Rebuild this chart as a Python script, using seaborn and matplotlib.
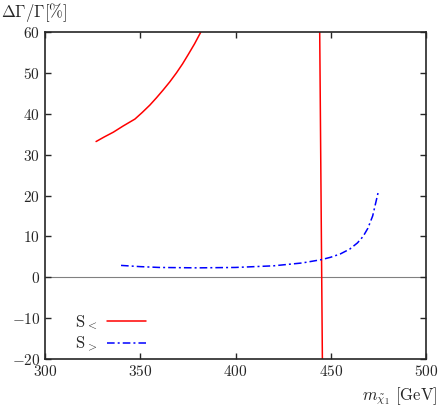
import numpy as np
import pandas as pd
import seaborn as sns
import matplotlib
matplotlib.use("Agg")
import matplotlib.pyplot as plt
from matplotlib.ticker import FuncFormatter

## Data
# S_< : lower branch of the curve
s_lt_x = [326.8, 331.0, 335.9, 341.0, 347.2, 351.0, 355.0, 358.5, 362.0, 365.5, 369.0, 372.2, 375.2, 378.5, 381.7]
s_lt_y = [33.2, 34.3, 35.5, 37.0, 38.7, 40.3, 42.1, 43.9, 45.8, 47.8, 50.0, 52.2, 54.5, 57.1, 59.9]
# S_< : near-vertical pole branch
s_lt_pole_x = [444.2, 444.9, 445.6]
s_lt_pole_y = [60.0, 20.0, -20.0]
# S_>
s_gt_x = [339.9, 350.0, 360.0, 380.0, 400.0, 420.0, 435.0, 445.0, 450.0, 455.0, 460.0, 464.0, 467.0, 469.5, 472.0, 474.8]
s_gt_y = [2.9, 2.6, 2.4, 2.3, 2.4, 2.8, 3.5, 4.3, 4.9, 5.7, 6.9, 8.4, 10.0, 12.0, 15.0, 20.6]

x_ticks = [300, 350, 400, 450, 500]
y_ticks = [-20, -10, 0, 10, 20, 30, 40, 50, 60]

sns.set_style("ticks")
plt.rcParams['font.family'] = ['DejaVu Serif']
plt.rcParams['mathtext.fontset'] = 'cm'
plt.rcParams['font.size'] = 11

lt = pd.DataFrame({'x': s_lt_x + s_lt_pole_x, 'y': s_lt_y + s_lt_pole_y,
                   'branch': ['a'] * len(s_lt_x) + ['b'] * len(s_lt_pole_x)})
gt = pd.DataFrame({'x': s_gt_x, 'y': s_gt_y})

dash_dot = [5, 2, 1.3, 2]

fig = plt.figure(figsize=(4.4, 4.09), dpi=100)
ax = fig.add_axes([0.1023, 0.1222, 0.8659, 0.7996])

ax.axhline(0, color='gray', linewidth=0.8, zorder=0)

sns.lineplot(data=lt, x='x', y='y', units='branch', estimator=None, sort=False,
             color='red', linewidth=1.1, ax=ax, legend=False)
sns.lineplot(data=gt, x='x', y='y', sort=False, color='blue', linewidth=1.1,
             dashes=False, ax=ax, legend=False)
ax.lines[-1].set_dashes(dash_dot)

# legend handles
h1, = ax.plot([], [], color='red', linewidth=1.1)
h2, = ax.plot([], [], color='blue', linewidth=1.1, dashes=dash_dot)
ax.legend([h1, h2], [r'$\mathrm{S}_<$', r'$\mathrm{S}_>$'], loc='lower left',
          bbox_to_anchor=(0.079, 0.015), frameon=False, markerfirst=False,
          handlelength=2.3, handletextpad=0.6, fontsize=12, labelspacing=0.2,
          borderpad=0, borderaxespad=0)

ax.set_xlim(300, 500)
ax.set_ylim(-20, 60)
ax.set_xticks(x_ticks)
ax.set_yticks(y_ticks)
fmt = FuncFormatter(lambda v, p: r'$%d$' % v)
ax.xaxis.set_major_formatter(fmt)
ax.yaxis.set_major_formatter(fmt)
ax.tick_params(direction='in', top=True, right=True, length=4, width=1, labelsize=11)
for s in ax.spines.values():
    s.set_linewidth(1.2)
    s.set_visible(True)

ax.set_xlabel('')
ax.set_ylabel('')
fig.text(0.003, 0.998, r'$\Delta\Gamma/\Gamma[\%]$', ha='left', va='top', fontsize=12)
fig.text(0.995, 0.005, r'$m_{\tilde{\chi}_1}\ [\mathrm{GeV}]$', ha='right', va='bottom', fontsize=12)

fig.savefig('out.png', dpi=100)
